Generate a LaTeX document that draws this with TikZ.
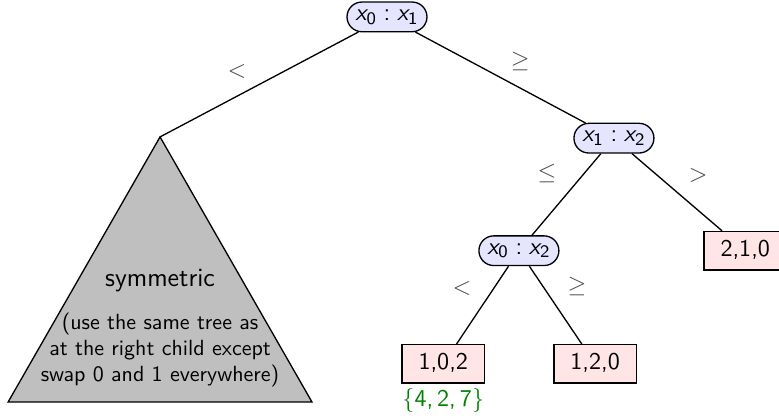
\documentclass[tikz,border=0pt,11pt]{standalone}
\renewcommand{\familydefault}{\sfdefault}
\DeclareSymbolFont{sfdigits}{OT1}{cmss}{m}{n}
\DeclareSymbolFont{sfslant}{OT1}{cmss}{m}{sl}
\DeclareMathSymbol{x}{\mathalpha}{sfslant}{`x}
\DeclareMathSymbol{0}{\mathalpha}{sfdigits}{`0}
\DeclareMathSymbol{1}{\mathalpha}{sfdigits}{`1}
\DeclareMathSymbol{2}{\mathalpha}{sfdigits}{`2}
\DeclareMathSymbol{4}{\mathalpha}{sfdigits}{`4}
\DeclareMathSymbol{7}{\mathalpha}{sfdigits}{`7}
\DeclareMathSymbol{,}{\mathpunct}{sfdigits}{`,}
\DeclareMathSymbol{:}{\mathrel}{sfdigits}{`:}
\usetikzlibrary{shapes.misc}

\tikzset{
    cmp/.style={rounded rectangle, draw, semithick, fill=blue!10, inner xsep=3pt, inner ysep=3.5pt},
    perm/.style={rectangle, draw, semithick, fill=red!10, inner xsep=7.5pt, text height=7.5pt, text depth=2pt, inner ysep=4pt},
    rel/.style={text=black!70},
}

\begin{document}
\begin{tikzpicture}
    \useasboundingbox (-6.19,0.27) rectangle (6.27,-6.42);
    \node[cmp] (r) at (0,0) {$x_0 : x_1$};
    \node[cmp] (a) at (3.63,-1.94) {$x_1 : x_2$};
    \node[cmp] (b) at (2.11,-3.74) {$x_0 : x_2$};
    \node[perm] (p102) at (0.90,-5.55) {1,0,2};
    \node[perm] (p120) at (3.33,-5.55) {1,2,0};
    \node[perm] (p210) at (5.73,-3.74) {2,1,0};
    \coordinate (t) at (-3.63,-1.92);
    \coordinate (tl) at (-6.06,-6.16);
    \coordinate (tr) at (-1.20,-6.16);
    \draw[semithick, fill=black!25] (t) -- (tl) -- (tr) -- cycle;
    \node (sym) at (-3.63,-4.21) {\large symmetric};
    \node[align=center, font=\small] (note) at (-3.63,-5.33) {(use the same tree as\\at the right child except\\swap 0 and 1 everywhere)};
    \draw[semithick] (r) -- (t);
    \draw[semithick] (r) -- (a);
    \draw[semithick] (a) -- (b);
    \draw[semithick] (a) -- (p210);
    \draw[semithick] (b) -- (p102);
    \draw[semithick] (b) -- (p120);
    \node[rel] (l1) at (-2.40,-0.88) {$<$};
    \node[rel] (l2) at (2.13,-0.72) {$\geq$};
    \node[rel] (l3) at (2.56,-2.50) {$\leq$};
    \node[rel] (l4) at (4.98,-2.53) {$>$};
    \node[rel] (l5) at (1.20,-4.35) {$<$};
    \node[rel] (l6) at (3.04,-4.32) {$\geq$};
    \node[text=green!50!black] (s) at (0.90,-6.13) {$\{4,2,7\}$};
\end{tikzpicture}
\end{document}
